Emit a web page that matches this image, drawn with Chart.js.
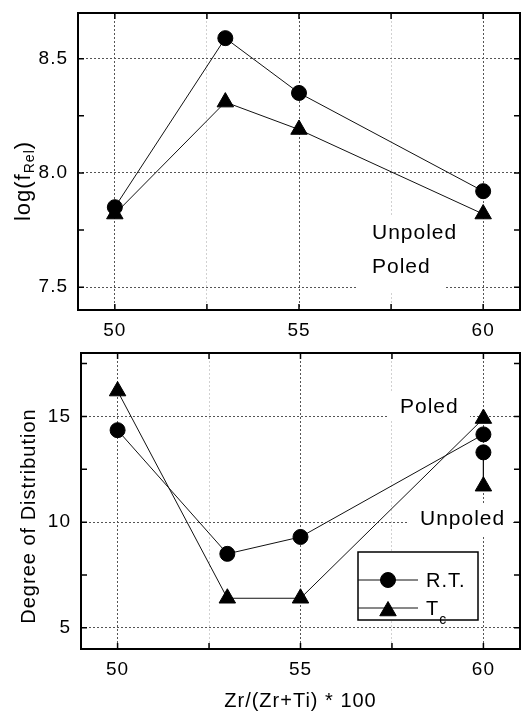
<!DOCTYPE html>
<html>
<head>
<meta charset="utf-8">
<script src="https://cdn.jsdelivr.net/npm/chart.js@4.4.0/dist/chart.umd.min.js"></script>
<style>
  html, body { margin: 0; padding: 0; background: #fff; }
  #wrap { position: relative; width: 522px; height: 711px; }
  canvas { position: absolute; left: 0; }
  #freq { top: 0; }
  #dist { top: 345px; }
</style>
</head>
<body>
<div id="wrap">
  <canvas id="freq" width="522" height="345"></canvas>
  <canvas id="dist" width="522" height="366"></canvas>
</div>
<script>
// Zr/(Zr+Ti) * 100 of each composition
var zrContent = [50, 53, 55, 60];

// log of the relaxation frequency
var logFreqRT = [7.85, 8.59, 8.35, 7.92];
var logFreqTc = [7.82, 8.31, 8.19, 7.82];

// degree of distribution, poled samples
var distRT = [14.35, 8.5, 9.3, 14.15];
var distTc = [16.2, 6.4, 6.4, 14.9];

// unpoled samples (only measured at 60)
var unpoledZr = 60;
var distRTUnpoled = 13.3;
var distTcUnpoled = 11.7;

var xTicks = [50, 52.5, 55, 57.5, 60];
var xTickLabels = [50, 55, 60];
var freqTicks = [7.5, 7.75, 8.0, 8.25, 8.5];
var freqTickLabels = [7.5, 8.0, 8.5];
var distTicks = [5, 7.5, 10, 12.5, 15, 17.5];
var distTickLabels = [5, 10, 15];

var FONT = "'Liberation Sans', Arial, Helvetica, sans-serif";
Chart.defaults.font.family = FONT;
Chart.defaults.color = '#000';

function pts(xs, ys) {
  return xs.map(function (x, i) { return { x: x, y: ys[i] }; });
}

function series(label, data, style, radius) {
  return {
    label: label,
    data: data,
    borderColor: '#111',
    borderWidth: 1,
    pointStyle: style,
    pointRadius: radius,
    pointBackgroundColor: '#000',
    pointBorderColor: '#000',
    pointBorderWidth: 1,
    tension: 0,
    clip: false
  };
}

// box around the plot with short inward ticks on all four sides
var framePlugin = {
  id: 'frame',
  beforeDraw: function (chart) {
    chart.ctx.letterSpacing = '1px';
  },
  afterDraw: function (chart) {
    var a = chart.chartArea, ctx = chart.ctx;
    var sx = chart.scales.x, sy = chart.scales.y;
    ctx.save();
    ctx.strokeStyle = '#000';
    ctx.lineWidth = 1.5;
    ctx.beginPath();
    sx.ticks.forEach(function (t) {
      var px = sx.getPixelForValue(t.value);
      ctx.moveTo(px, a.bottom); ctx.lineTo(px, a.bottom - 6);
      ctx.moveTo(px, a.top); ctx.lineTo(px, a.top + 6);
    });
    sy.ticks.forEach(function (t) {
      var py = sy.getPixelForValue(t.value);
      ctx.moveTo(a.left, py); ctx.lineTo(a.left + 6, py);
      ctx.moveTo(a.right, py); ctx.lineTo(a.right - 6, py);
    });
    ctx.stroke();
    ctx.lineWidth = 2;
    ctx.strokeRect(a.left, a.top, a.right - a.left, a.bottom - a.top);
    ctx.restore();
  }
};

function gridColor(labels, minor) {
  return function (c) {
    return labels.indexOf(c.tick.value) >= 0 ? '#555' : minor;
  };
}

function whiteBox(ctx, x0, y0, x1, y1) {
  ctx.fillStyle = '#fff';
  ctx.fillRect(x0, y0, x1 - x0, y1 - y0);
}

function label(ctx, text, x, y, size) {
  ctx.font = size + 'px ' + FONT;
  ctx.fillStyle = '#000';
  ctx.textAlign = 'left';
  ctx.textBaseline = 'middle';
  ctx.fillText(text, x, y);
}

// rotated axis title made of [text, size, baseline shift] parts
function verticalTitle(ctx, parts, x, y) {
  ctx.save();
  ctx.translate(x, y);
  ctx.rotate(-Math.PI / 2);
  ctx.fillStyle = '#000';
  ctx.textBaseline = 'alphabetic';
  ctx.textAlign = 'left';
  var w = 0;
  parts.forEach(function (p) {
    ctx.font = p[1] + 'px ' + FONT;
    w += ctx.measureText(p[0]).width;
  });
  var cx = -w / 2;
  parts.forEach(function (p) {
    ctx.font = p[1] + 'px ' + FONT;
    ctx.fillText(p[0], cx, p[2]);
    cx += ctx.measureText(p[0]).width;
  });
  ctx.restore();
}

function baseOptions(yMin, yMax, yTicks, yLabels, yWidth, xHeight, padTop, fmt) {
  return {
    responsive: false,
    animation: false,
    layout: { autoPadding: false, padding: { top: padTop, right: 2, left: 0, bottom: 0 } },
    plugins: { legend: { display: false }, tooltip: { enabled: false } },
    scales: {
      x: {
        type: 'linear',
        min: 49,
        max: 61,
        afterBuildTicks: function (s) { s.ticks = xTicks.map(function (v) { return { value: v }; }); },
        afterFit: function (s) {
          s.height = xHeight;
          s.paddingLeft = 0;
          s.paddingRight = 0;
        },
        grid: { drawTicks: false, lineWidth: 1, color: gridColor(xTickLabels, 'rgba(0,0,0,0.18)') },
        border: { display: false, dash: [2, 2] },
        ticks: {
          padding: 9,
          autoSkip: false,
          maxRotation: 0,
          font: { size: 19 },
          callback: function (v) { return xTickLabels.indexOf(v) >= 0 ? String(v) : ''; }
        }
      },
      y: {
        min: yMin,
        max: yMax,
        afterBuildTicks: function (s) { s.ticks = yTicks.map(function (v) { return { value: v }; }); },
        afterFit: function (s) {
          s.width = yWidth;
          s.paddingTop = 0;
          s.paddingBottom = 0;
        },
        grid: { drawTicks: false, lineWidth: 1, color: gridColor(yLabels, 'rgba(0,0,0,0)') },
        border: { display: false, dash: [2, 2] },
        ticks: {
          padding: 10,
          autoSkip: false,
          font: { size: 19 },
          callback: function (v) { return yLabels.indexOf(v) >= 0 ? fmt(v) : ''; }
        }
      }
    }
  };
}

// upper panel: relaxation frequency
var freqNotes = {
  id: 'freqNotes',
  beforeDatasetsDraw: function (chart) {
    var ctx = chart.ctx;
    ctx.save();
    whiteBox(ctx, 358, 216, 444, 292);
    label(ctx, 'Unpoled', 372, 233, 21);
    label(ctx, 'Poled', 372, 267, 21);
    ctx.restore();
  },
  afterDraw: function (chart) {
    verticalTitle(chart.ctx, [['log(f', 22, 0], ['Rel', 14, 4], [')', 22, 0]], 30, 181);
  }
};

new Chart(document.getElementById('freq'), {
  type: 'line',
  data: {
    datasets: [
      series('R.T.', pts(zrContent, logFreqRT), 'circle', 7.5),
      series('Tc', pts(zrContent, logFreqTc), 'triangle', 9.5)
    ]
  },
  options: baseOptions(7.4, 8.7, freqTicks, freqTickLabels, 78, 35, 13,
    function (v) { return v.toFixed(1); }),
  plugins: [framePlugin, freqNotes]
});

// lower panel: degree of distribution
var distNotes = {
  id: 'distNotes',
  beforeDatasetsDraw: function (chart) {
    var ctx = chart.ctx;
    ctx.save();
    whiteBox(ctx, 388, 48, 470, 76);
    whiteBox(ctx, 408, 160, 512, 190);
    label(ctx, 'Poled', 400, 62, 21);
    label(ctx, 'Unpoled', 420, 174, 21);
    ctx.restore();
  },
  afterDatasetsDraw: function (chart) {
    var ctx = chart.ctx;
    var rows = [
      { y: 235, style: 'circle', r: 7.5, dy: 0, text: 'R.T.', sub: '' },
      { y: 263, style: 'triangle', r: 9.5, dy: 3, text: 'T', sub: 'c' }
    ];
    ctx.save();
    whiteBox(ctx, 358, 207, 478, 275);
    ctx.strokeStyle = '#000';
    ctx.lineWidth = 1.5;
    ctx.strokeRect(358, 207, 120, 68);
    rows.forEach(function (row) {
      ctx.strokeStyle = '#111';
      ctx.lineWidth = 1;
      ctx.beginPath();
      ctx.moveTo(358, row.y);
      ctx.lineTo(418, row.y);
      ctx.stroke();
      ctx.fillStyle = '#000';
      ctx.strokeStyle = '#000';
      Chart.helpers.drawPoint(ctx, { pointStyle: row.style, radius: row.r, rotation: 0, borderWidth: 1 }, 388, row.y + row.dy);
      label(ctx, row.text, 426, row.y + 1, 20);
      if (row.sub) {
        var w = ctx.measureText(row.text).width;
        label(ctx, row.sub, 426 + w, row.y + 12, 14);
      }
    });
    ctx.restore();
  },
  afterDraw: function (chart) {
    verticalTitle(chart.ctx, [['Degree of Distribution', 20, 0]], 35, 171);
  }
};

var distOptions = baseOptions(4, 18, distTicks, distTickLabels, 81, 62, 8,
  function (v) { return String(v); });
distOptions.scales.x.title = {
  display: true,
  text: 'Zr/(Zr+Ti) * 100',
  font: { size: 20, lineHeight: 1 },
  padding: { top: 0, bottom: 0 }
};

var unpoled = series('Unpoled',
  [{ x: unpoledZr, y: distRTUnpoled }, { x: unpoledZr, y: distTcUnpoled }],
  ['circle', 'triangle'], [7.5, 9.5]);

new Chart(document.getElementById('dist'), {
  type: 'line',
  data: {
    datasets: [
      series('R.T.', pts(zrContent, distRT), 'circle', 7.5),
      series('Tc', pts(zrContent, distTc), 'triangle', 9.5),
      unpoled
    ]
  },
  options: distOptions,
  plugins: [framePlugin, distNotes]
});
</script>
</body>
</html>
